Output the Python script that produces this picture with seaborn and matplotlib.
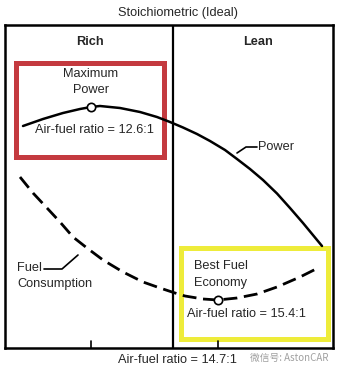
import matplotlib
matplotlib.use("Agg")
import matplotlib.pyplot as plt
import seaborn as sns
import pandas as pd
from matplotlib.patches import Rectangle

# Schematic positions (horizontal position across the chart, height of curve)
power_x = [18, 38, 58, 75, 86, 95, 115, 135, 152, 165, 178, 192, 205, 220, 232, 245,
           258, 272, 285, 298, 317]
power_y = [222, 229, 235, 239, 241, 242, 240, 236, 231, 226, 220.5, 214, 207, 198, 189,
           179, 168, 154.5, 140, 125, 102]
fuel_x = [15, 28, 42, 55, 68, 82, 98, 118, 138, 155, 170, 180, 198, 213, 232, 252, 272, 295, 315]
fuel_y = [171, 155, 140, 126, 111, 100, 88, 76, 66, 60, 55, 52, 49, 48, 50, 54, 61, 71, 81]
max_power_pt = (86, 241)
best_econ_pt = (213, 48)
stoich_x = 168
tick_positions = [86, 213]

sns.set_theme(style="white")
plt.rcParams['font.family'] = ['Liberation Sans', 'Noto Sans CJK SC', 'DejaVu Sans']

fig = plt.figure(figsize=(3.4, 3.74), dpi=100)
ax = fig.add_axes([5/340, 1-348/374, 328/340, 323/374])
ax.set_xlim(0, 328)
ax.set_ylim(0, 323)

dfp = pd.DataFrame({"x": power_x, "y": power_y})
dff = pd.DataFrame({"x": fuel_x, "y": fuel_y})

# boxes (px converted to data: x=px-5, y=348-py)
ax.add_patch(Rectangle((15.5-5, 348-156.5), 164-15.5, 156.5-62.5, fill=True,
                       facecolor="white", edgecolor="#c43a3f", lw=3.6, zorder=1))
ax.add_patch(Rectangle((181-5, 348-339), 327.5-181, 339-248, fill=True,
                       facecolor="white", edgecolor="#eeec3a", lw=3.6, zorder=1))

sns.lineplot(data=dfp, x="x", y="y", ax=ax, color="black", lw=1.8, sort=False, zorder=3)
sns.lineplot(data=dff, x="x", y="y", ax=ax, color="black", lw=2.0, sort=False,
             linestyle=(0, (5.0, 2.4)), zorder=3)
ax.plot(*max_power_pt, 'o', ms=6, mfc="white", mec="black", mew=1.2, zorder=4)
ax.plot(*best_econ_pt, 'o', ms=6, mfc="white", mec="black", mew=1.2, zorder=4)

ax.axvline(stoich_x, color="black", lw=1.6, zorder=2)
for t in tick_positions:
    ax.plot([t, t], [0, 7], color="black", lw=1.2, zorder=2)

ax.set_xticks([]); ax.set_yticks([])
ax.set_xlabel(""); ax.set_ylabel("")
for s in ax.spines.values():
    s.set_visible(True)
    s.set_color("black")
    s.set_linewidth(1.8)

fs = 9.2
def T(px, py, s, **kw):
    ax.text(px-5, 348-py, s, fontsize=kw.pop("fontsize", fs), va="center", **kw)

T(90, 42, "Rich", ha="center", fontweight="bold")
T(258, 42, "Lean", ha="center", fontweight="bold")
T(91, 74, "Maximum", ha="center")
T(91, 90, "Power", ha="center")
T(94.5, 130, "Air-fuel ratio = 12.6:1", ha="center")
T(258, 147, "Power", ha="left")
T(17, 268, "Fuel", ha="left")
T(17, 284, "Consumption", ha="left")
T(194, 266, "Best Fuel", ha="left")
T(194, 283, "Economy", ha="left")
T(246.5, 314, "Air-fuel ratio = 15.4:1", ha="center")

# leader lines
ax.plot([237-5, 246-5, 257-5], [348-153, 348-147, 348-147], color="black", lw=1.2, zorder=3)
ax.plot([44-5, 62-5, 78-5], [348-269, 348-269, 348-255], color="black", lw=1.2, zorder=3)

fig.text(178/340, 1-13/374, "Stoichiometric (Ideal)", ha="center", va="center", fontsize=fs)
fig.text(118/340, 1-360/374, "Air-fuel ratio = 14.7:1", ha="left", va="center", fontsize=fs)
fig.text(250/340, 1-358/374, "微信号: AstonCAR", ha="left", va="center", fontsize=7,
         color="#a0a0a0", family=['Noto Sans CJK SC', 'DejaVu Sans'])

fig.savefig("out.png", dpi=100, facecolor="white")
